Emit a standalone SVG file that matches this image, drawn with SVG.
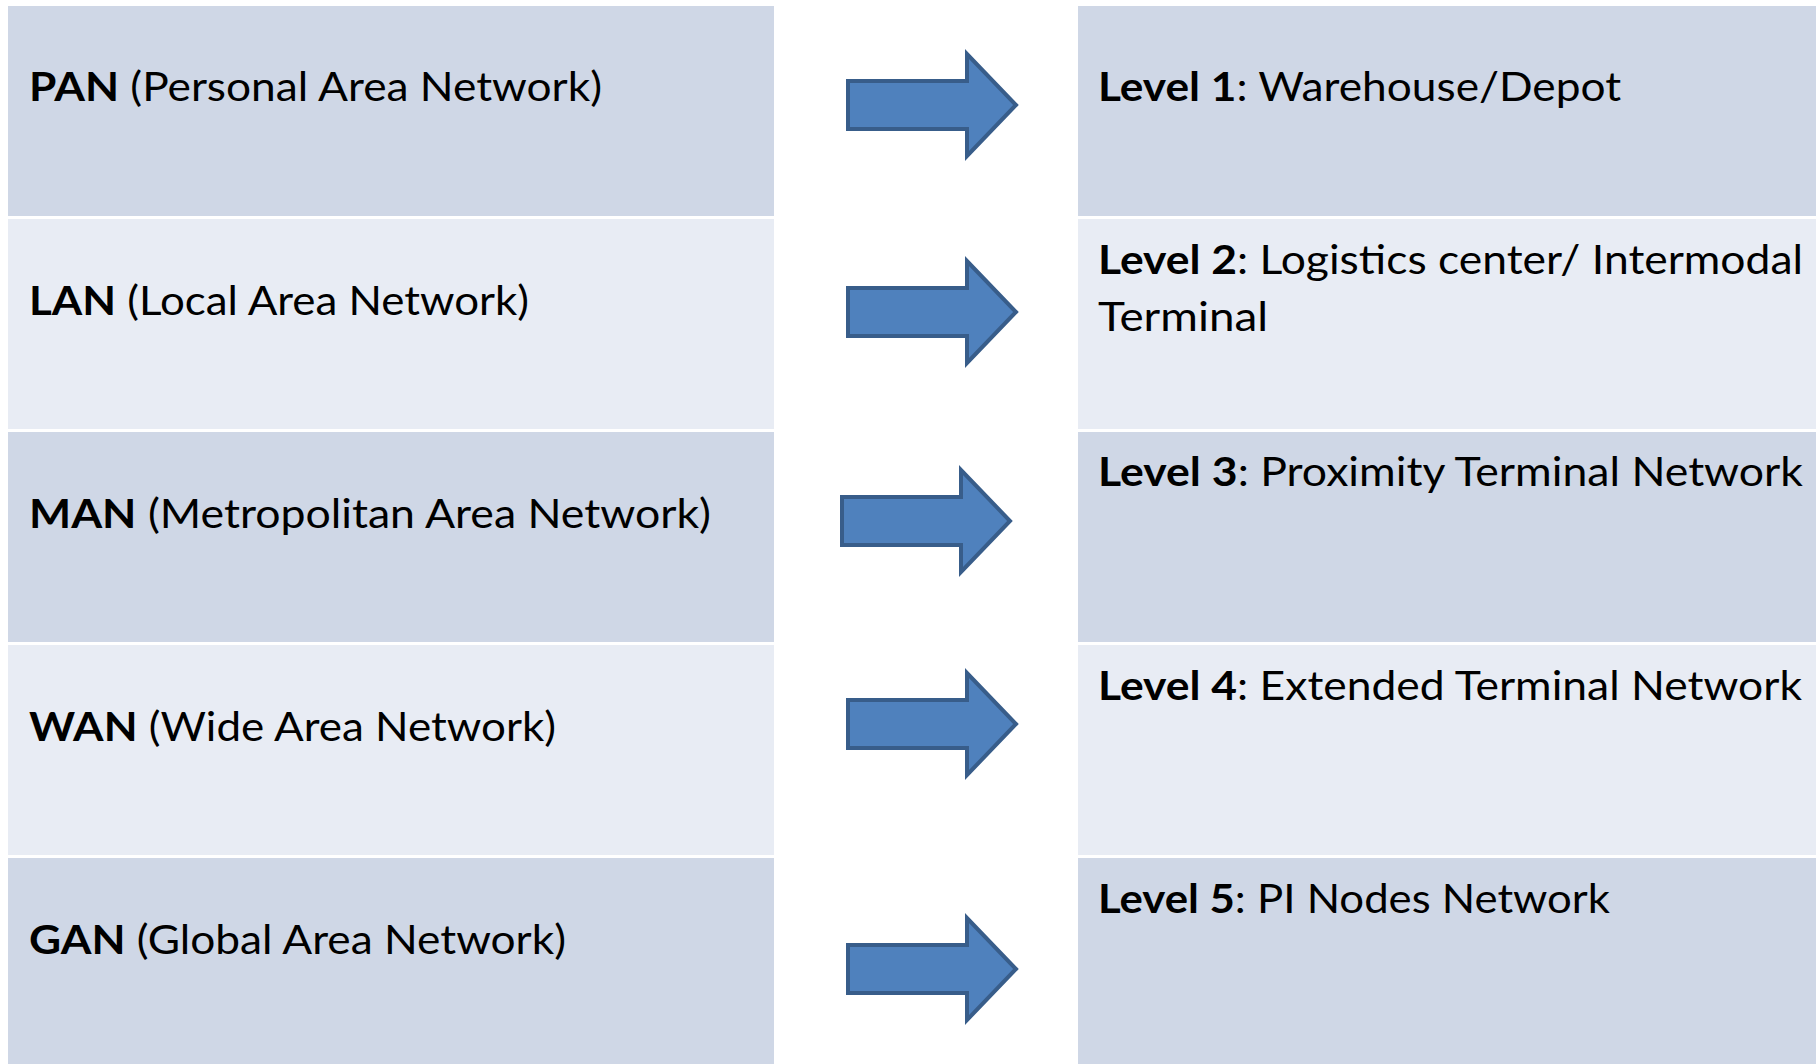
<svg xmlns="http://www.w3.org/2000/svg" width="1816" height="1064" viewBox="0 0 1816 1064" xmlns:xlink="http://www.w3.org/1999/xlink">
  <style>
    .dark { fill: #CFD7E6; }
    .light { fill: #E8ECF4; }
    .label { font-family: Lato, "Open Sans", "Liberation Sans", sans-serif; font-size: 40px; fill: #000000; }
    .label .b { font-weight: bold; }
    .arrow { fill: #4F81BD; stroke: #385D8A; stroke-width: 4; stroke-linejoin: miter; }
  </style>
  <defs>
    <!-- block arrow, origin at the left end of the shaft, vertically centred -->
    <polygon id="blockArrow" points="2,-24 121,-24 121,-51 170,0 121,51 121,24 2,24"/>
  </defs>
  <rect width="1816" height="1064" fill="#FFFFFF"/>

  <!-- network scale column -->
  <g id="pan">
    <rect class="dark" x="8" y="6" width="766" height="210"/>
    <text class="label" x="29" y="101" textLength="573" lengthAdjust="spacingAndGlyphs"><tspan class="b">PAN</tspan> (Personal Area Network)</text>
  </g>
  <g id="lan">
    <rect class="light" x="8" y="219" width="766" height="210"/>
    <text class="label" x="29" y="315" textLength="500" lengthAdjust="spacingAndGlyphs"><tspan class="b">LAN</tspan> (Local Area Network)</text>
  </g>
  <g id="man">
    <rect class="dark" x="8" y="432" width="766" height="210"/>
    <text class="label" x="29" y="528" textLength="682" lengthAdjust="spacingAndGlyphs"><tspan class="b">MAN</tspan> (Metropolitan Area Network)</text>
  </g>
  <g id="wan">
    <rect class="light" x="8" y="645" width="766" height="210"/>
    <text class="label" x="29" y="741" textLength="527" lengthAdjust="spacingAndGlyphs"><tspan class="b">WAN</tspan> (Wide Area Network)</text>
  </g>
  <g id="gan">
    <rect class="dark" x="8" y="858" width="766" height="210"/>
    <text class="label" x="29" y="954" textLength="537" lengthAdjust="spacingAndGlyphs"><tspan class="b">GAN</tspan> (Global Area Network)</text>
  </g>

  <!-- logistics level column -->
  <g id="level1">
    <rect class="dark" x="1078" y="6" width="738" height="210"/>
    <text class="label" x="1098" y="101" textLength="523" lengthAdjust="spacingAndGlyphs"><tspan class="b">Level 1</tspan>: Warehouse/Depot</text>
  </g>
  <g id="level2">
    <rect class="light" x="1078" y="219" width="738" height="210"/>
    <text class="label" x="1098" y="274" textLength="705" lengthAdjust="spacingAndGlyphs"><tspan class="b">Level 2</tspan>: Logistics center/ Intermodal</text>
    <text class="label" x="1098" y="331" textLength="170" lengthAdjust="spacingAndGlyphs">Terminal</text>
  </g>
  <g id="level3">
    <rect class="dark" x="1078" y="432" width="738" height="210"/>
    <text class="label" x="1098" y="486" textLength="705" lengthAdjust="spacingAndGlyphs"><tspan class="b">Level 3</tspan>: Proximity Terminal Network</text>
  </g>
  <g id="level4">
    <rect class="light" x="1078" y="645" width="738" height="210"/>
    <text class="label" x="1098" y="700" textLength="704" lengthAdjust="spacingAndGlyphs"><tspan class="b">Level 4</tspan>: Extended Terminal Network</text>
  </g>
  <g id="level5">
    <rect class="dark" x="1078" y="858" width="738" height="210"/>
    <text class="label" x="1098" y="913" textLength="512" lengthAdjust="spacingAndGlyphs"><tspan class="b">Level 5</tspan>: PI Nodes Network</text>
  </g>

  <!-- mapping arrows -->
  <g id="connectors">
    <use xlink:href="#blockArrow" href="#blockArrow" class="arrow" transform="translate(846,105)"/>
    <use xlink:href="#blockArrow" href="#blockArrow" class="arrow" transform="translate(846,312)"/>
    <use xlink:href="#blockArrow" href="#blockArrow" class="arrow" transform="translate(840,521)"/>
    <use xlink:href="#blockArrow" href="#blockArrow" class="arrow" transform="translate(846,724)"/>
    <use xlink:href="#blockArrow" href="#blockArrow" class="arrow" transform="translate(846,969)"/>
  </g>
</svg>
